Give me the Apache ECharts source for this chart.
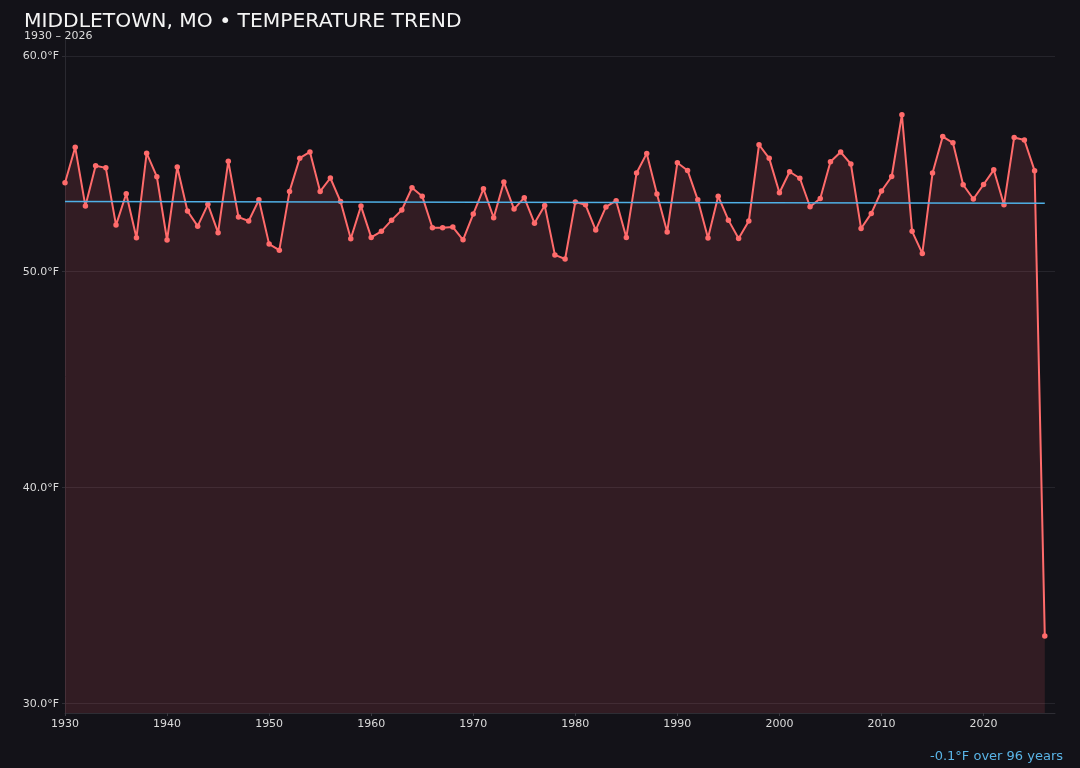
<!DOCTYPE html>
<html>
<head>
<meta charset="utf-8">
<script src="https://cdn.jsdelivr.net/npm/echarts@6/dist/echarts.min.js"></script>
<style>
html,body{margin:0;padding:0;background:#131218;}
#c{width:1080px;height:768px;}
</style>
</head>
<body>
<div id="c"></div>
<script>
const years = [];
for (let y = 1930; y <= 2026; y++) years.push(y);
const temps = [
  54.12, 55.76, 53.04, 54.91, 54.81, 52.16, 53.61, 51.57, 55.49, 54.40,
  51.47, 54.85, 52.81, 52.11, 53.12, 51.81, 55.12, 52.53, 52.35, 53.33,
  51.28, 51.00, 53.72, 55.26, 55.55, 53.72, 54.34, 53.25, 51.53, 53.04,
  51.59, 51.87, 52.39, 52.86, 53.89, 53.50, 52.04, 52.04, 52.07, 51.48,
  52.67, 53.84, 52.50, 54.15, 52.90, 53.43, 52.25, 53.07, 50.78, 50.59,
  53.23, 53.10, 51.93, 53.00, 53.29, 51.59, 54.57, 55.48, 53.60, 51.84,
  55.05, 54.69, 53.33, 51.56, 53.50, 52.39, 51.54, 52.35, 55.88, 55.25,
  53.66, 54.63, 54.33, 53.01, 53.39, 55.09, 55.54, 54.99, 52.00, 52.70,
  53.74, 54.41, 57.27, 51.87, 50.85, 54.57, 56.26, 55.97, 54.03, 53.37,
  54.04, 54.72, 53.10, 56.22, 56.10, 54.68, 33.13
];
const trendYears = [1930, 2026];
const trendValues = [53.25, 53.17];
const xTicks = [1930, 1940, 1950, 1960, 1970, 1980, 1990, 2000, 2010, 2020];
const yTicks = [30, 40, 50, 60];
const titleText = 'MIDDLETOWN, MO • TEMPERATURE TREND';
const subtitleText = '1930 – 2026';
const footerText = '-0.1°F over 96 years';

const font = 'DejaVu Sans';
const chart = echarts.init(document.getElementById('c'));
chart.setOption({
  backgroundColor: '#131218',
  animation: false,
  title: [
    { text: titleText, left: 24, top: 12, padding: 0, textStyle: { color: '#f4f4f4', fontSize: 20.3, fontWeight: 'normal', fontFamily: font } },
    { text: subtitleText, left: 24, top: 30.5, padding: 0, textStyle: { color: '#dcdcdc', fontSize: 11, fontWeight: 'normal', fontFamily: font } },
    { text: footerText, right: 17, top: 750, padding: 0, textStyle: { color: '#5ab4e6', fontSize: 13, fontWeight: 'normal', fontFamily: font } }
  ],
  grid: { left: 65, right: 25, top: 40, bottom: 55 },
  xAxis: {
    type: 'value', min: 1930, max: 2027,
    axisLine: { show: true, lineStyle: { color: '#2e2d34', width: 1 } },
    axisTick: { show: true, length: 3, lineStyle: { color: '#3a3940' }, customValues: xTicks },
    axisLabel: { color: '#dadada', fontSize: 11, fontFamily: font, margin: 6, customValues: xTicks, formatter: v => String(v) },
    splitLine: { show: false }
  },
  yAxis: {
    type: 'value', min: 29.57, max: 60.73,
    axisLine: { show: true, lineStyle: { color: '#2a2930', width: 1 } },
    axisTick: { show: true, length: 3, lineStyle: { color: '#2e2d34' }, customValues: yTicks },
    axisLabel: { color: '#dadada', fontSize: 11, fontFamily: font, margin: 6, customValues: yTicks, formatter: v => v.toFixed(1) + '°F' },
    splitLine: { show: true, lineStyle: { color: '#25242b', width: 1 } }
  },
  series: [
    {
      type: 'line',
      data: years.map((y, i) => [y, temps[i]]),
      symbol: 'circle', symbolSize: 5.5,
      lineStyle: { color: '#ff6b6b', width: 2 },
      itemStyle: { color: '#ff6b6b' },
      areaStyle: { color: 'rgba(255,100,110,0.19)', origin: 'start' },
      z: 3
    },
    {
      type: 'line',
      data: trendYears.map((y, i) => [y, trendValues[i]]),
      symbol: 'none',
      lineStyle: { color: '#4fb0e6', width: 1.5 },
      z: 4
    }
  ]
});
</script>
</body>
</html>
